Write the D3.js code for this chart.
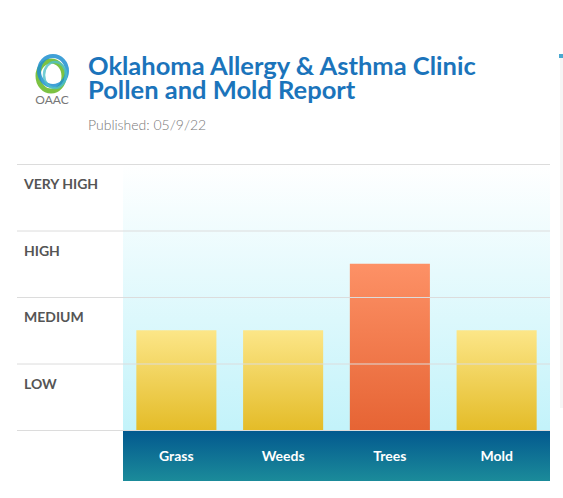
<!DOCTYPE html>
<html><head><meta charset="utf-8">
<script src="https://cdn.jsdelivr.net/npm/d3@7"></script>
<style>body{margin:0;background:#fff;}svg{display:block;font-family:Lato,sans-serif;}</style>
</head><body>
<script>
const categories = ["Grass", "Weeds", "Trees", "Mold"];
const levels = [1.5, 1.5, 2.5, 1.5];
const levelLabels = ["LOW", "MEDIUM", "HIGH", "VERY HIGH"];
const barColors = ["yellow", "yellow", "orange", "yellow"];
const title = ["Oklahoma Allergy & Asthma Clinic", "Pollen and Mold Report"];
const published = "Published: 05/9/22";

const W = 563, H = 498;
const svg = d3.select("body").append("svg").attr("width", W).attr("height", H);
const defs = svg.append("defs");
function lg(id, stops) {
  const g = defs.append("linearGradient").attr("id", id).attr("x1", 0).attr("y1", 0).attr("x2", 0).attr("y2", 1);
  stops.forEach(([o, c]) => g.append("stop").attr("offset", o).attr("stop-color", c));
}
lg("bg", [[0, "#ffffff"], [1, "#c3f3fa"]]);
lg("yellow", [[0, "#fce688"], [1, "#e4bc28"]]);
lg("orange", [[0, "#fd9166"], [1, "#e66434"]]);
lg("band", [[0, "#03598f"], [1, "#1b8b9a"]]);

const plotL = 123, plotR = 550, plotT = 164, plotB = 430, gridL = 17;
const x = d3.scaleBand().domain(categories).range([plotL, plotR]).paddingInner(0.25).paddingOuter(0.125);
const y = d3.scaleLinear().domain([0, 4]).range([plotB, plotT]);

// right edge decoration
svg.append("rect").attr("x", 559).attr("y", 54).attr("width", 4).attr("height", 4).attr("fill", "#4aa8d0");
svg.append("rect").attr("x", 560).attr("y", 58).attr("width", 3).attr("height", 350).attr("fill", "#f6f6f6");

// logo
const logo = svg.append("g");
logo.append("ellipse").attr("cx", 51).attr("cy", 76).attr("rx", 13).attr("ry", 15).attr("fill", "none").attr("stroke", "#7cc242").attr("stroke-width", 5);
logo.append("ellipse").attr("cx", 53).attr("cy", 71).attr("rx", 14).attr("ry", 15).attr("fill", "none").attr("stroke", "#1f8fd0").attr("stroke-width", 4).attr("opacity", 0.85);
logo.append("ellipse").attr("cx", 55).attr("cy", 75).attr("rx", 11).attr("ry", 13).attr("fill", "none").attr("stroke", "#4fc0c8").attr("stroke-width", 2.5).attr("opacity", 0.8);
logo.append("text").attr("x", 52).attr("y", 104).attr("text-anchor", "middle").attr("font-size", 12).attr("fill", "#777").text("OAAC");

// title
svg.selectAll(".title").data(title).join("text")
  .attr("x", 88).attr("y", (d, i) => 75 + i * 24)
  .attr("font-size", 25.5).attr("font-weight", 700).attr("fill", "#1b74bb").text(d => d);
svg.append("text").attr("x", 88).attr("y", 130).attr("font-size", 14).attr("font-weight", 300).attr("fill", "#777").text(published);

// plot background
svg.append("rect").attr("x", plotL).attr("y", plotT).attr("width", plotR - plotL).attr("height", plotB - plotT).attr("fill", "url(#bg)");

// bars
svg.selectAll(".bar").data(categories).join("rect")
  .attr("x", d => x(d)).attr("width", x.bandwidth())
  .attr("y", (d, i) => y(levels[i])).attr("height", (d, i) => y(0) - y(levels[i]))
  .attr("fill", (d, i) => `url(#${barColors[i]})`);

// grid lines
svg.selectAll(".grid").data(d3.range(0, 5)).join("line")
  .attr("x1", gridL).attr("x2", plotR).attr("y1", d => y(d) + 0.5).attr("y2", d => y(d) + 0.5)
  .attr("stroke", "#dcdcdc").attr("stroke-width", 1);

// level labels
svg.selectAll(".lvl").data(levelLabels).join("text")
  .attr("x", 24).attr("y", (d, i) => y(i + 1) + 25)
  .attr("font-size", 14).attr("font-weight", 700).attr("fill", "#555").text(d => d);

// category band
svg.append("rect").attr("x", plotL).attr("y", plotB + 1).attr("width", plotR - plotL).attr("height", 50).attr("fill", "url(#band)");
svg.selectAll(".cat").data(categories).join("text")
  .attr("x", d => x(d) + x.bandwidth() / 2).attr("y", plotB + 31)
  .attr("text-anchor", "middle").attr("font-size", 14).attr("font-weight", 700).attr("fill", "#fff").text(d => d);
</script>
</body></html>
